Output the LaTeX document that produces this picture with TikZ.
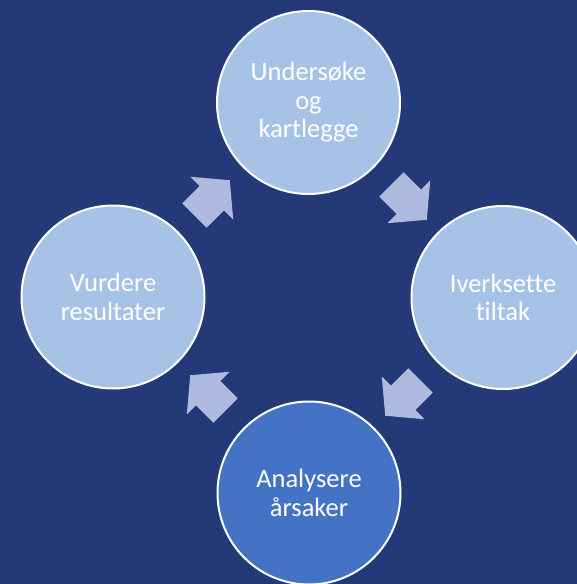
\documentclass[tikz,border=0pt]{standalone}
\usepackage{fontspec}
\setmainfont{Carlito}[Ligatures=NoCommon]
\usetikzlibrary{shapes.arrows}
\definecolor{bgc}{HTML}{243A78}
\definecolor{lightc}{HTML}{A6C3E7}
\definecolor{darkc}{HTML}{4472C4}
\definecolor{arrowc}{HTML}{AEBBDF}
\tikzset{
  stepcircle/.style={circle, draw=white, line width=2pt, minimum size=183pt, inner sep=0pt,
    text=white, align=center, font=\fontsize{26.5}{28.5}\selectfont},
  lightstep/.style={stepcircle, fill=lightc},
  darkstep/.style={stepcircle, fill=darkc},
  blockarrow/.style={single arrow, fill=arrowc, draw=none, inner xsep=0pt, inner ysep=17pt,
    minimum width=0pt, minimum height=50pt, single arrow head extend=13pt,
    single arrow tip angle=100, single arrow head indent=0pt}
}
\begin{document}
\begin{tikzpicture}[x=1pt,y=-1pt]
\useasboundingbox (0,0) rectangle (577,584);
\fill[bgc] (0,0) rectangle (577,584);
\clip (0,0) rectangle (577,584);
\node[lightstep] (top) at (308.5,102.5) {Undersøke\\og\\kartlegge};
\node[lightstep] (right) at (503,297.5) {Iverksette\\tiltak};
\node[darkstep] (bottom) at (309,493) {Analysere\\årsaker};
\node[lightstep] (left) at (113,297) {Vurdere\\resultater};
\node[blockarrow, rotate=-45] (a1) at (404,197) {};
\node[blockarrow, rotate=225] (a2) at (408,393) {};
\node[blockarrow, rotate=135] (a3) at (213,398) {};
\node[blockarrow, rotate=45] (a4) at (207,203) {};
\end{tikzpicture}
\end{document}
